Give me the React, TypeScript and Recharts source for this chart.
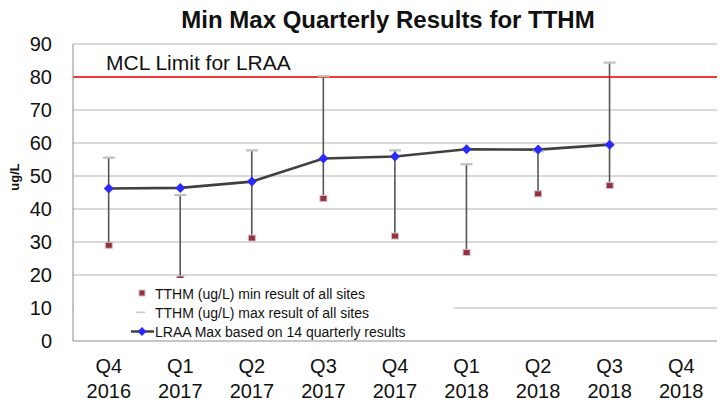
import React from 'react';
import { ComposedChart, Bar, Line, XAxis, YAxis, CartesianGrid, ReferenceLine, Legend } from 'recharts';

const categories = ['Q4 2016', 'Q1 2017', 'Q2 2017', 'Q3 2017', 'Q4 2017', 'Q1 2018', 'Q2 2018', 'Q3 2018', 'Q4 2018'];
const minValues: (number | null)[] = [29.0, 18.8, 31.2, 43.2, 31.8, 26.8, 44.6, 47.1, null];
const maxValues: (number | null)[] = [55.6, 44.3, 57.8, 80.3, 57.8, 53.6, 57.5, 84.4, null];
const lraaValues: (number | null)[] = [46.2, 46.4, 48.3, 55.3, 55.9, 58.1, 58.0, 59.5, null];
const yTicks = [0, 10, 20, 30, 40, 50, 60, 70, 80, 90];
const mclLimit = 80;

const FONT = '"Liberation Sans", Arial, sans-serif';

const data = categories.map((c, i) => ({
  cat: c,
  min: minValues[i],
  max: maxValues[i],
  lraa: lraaValues[i],
  range: minValues[i] != null && maxValues[i] != null ? [minValues[i], maxValues[i]] : null,
}));

const HighLow = (props: any) => {
  const { x, y, width, height } = props;
  if (x == null || y == null || !height) return null;
  const cx = x + width / 2;
  const top = Math.min(y, y + height);
  const bot = Math.max(y, y + height);
  return <line x1={cx} x2={cx} y1={top} y2={bot} stroke="#555555" strokeWidth={1.6} />;
};

const MaxDot = (props: any) => {
  const { cx, cy, value } = props;
  if (value == null || cx == null || cy == null) return null;
  return <rect x={cx - 6} y={cy - 1} width={12} height={2.2} fill="#b9c6b9" />;
};

const MinDot = (props: any) => {
  const { cx, cy, value } = props;
  if (value == null || cx == null || cy == null) return null;
  return <rect x={cx - 3.5} y={cy - 3} width={7} height={6} fill="#9b3034" stroke="#c8c0dc" strokeWidth={1} />;
};

const Diamond = (props: any) => {
  const { cx, cy, value } = props;
  if (value == null || cx == null || cy == null) return null;
  return <polygon points={`${cx},${cy - 5} ${cx + 5},${cy} ${cx},${cy + 5} ${cx - 5},${cy}`} fill="#2a2aff" />;
};

const XTick = (props: any) => {
  const { x, y, payload } = props;
  const [q, yr] = String(payload.value).split(' ');
  return (
    <text x={x} y={y} textAnchor="middle" fontFamily={FONT} fontSize={20} fill="#111">
      <tspan x={x} dy={32}>{q}</tspan>
      <tspan x={x} dy={25}>{yr}</tspan>
    </text>
  );
};

const YTick = (props: any) => {
  const { x, y, payload } = props;
  return (
    <text x={x} y={y} dy={7} textAnchor="end" fontFamily={FONT} fontSize={20} fill="#111">
      {payload.value}
    </text>
  );
};

const LegendContent = () => {
  const row: React.CSSProperties = { display: 'flex', alignItems: 'center', height: 19, fontSize: 14, fontFamily: FONT, color: '#111', whiteSpace: 'nowrap' };
  return (
    <div style={{ background: '#fff', width: 380, height: 62, paddingTop: 6, boxSizing: 'border-box' }}>
      <div style={row}>
        <svg width={81} height={19}><rect x={65} y={6} width={6} height={6} fill="#9b3034" stroke="#c8c0dc" strokeWidth={1} /></svg>
        <span>TTHM (ug/L) min result of all sites</span>
      </div>
      <div style={row}>
        <svg width={81} height={19}><rect x={62} y={8.5} width={9} height={1.6} fill="#c8c4dc" /></svg>
        <span>TTHM (ug/L) max result of all sites</span>
      </div>
      <div style={row}>
        <svg width={81} height={19}>
          <line x1={57} x2={80} y1={9.5} y2={9.5} stroke="#404040" strokeWidth={2.5} />
          <polygon points="68,5 72.5,9.5 68,14 63.5,9.5" fill="#2a2aff" />
        </svg>
        <span>LRAA Max based on 14 quarterly results</span>
      </div>
    </div>
  );
};

export default function App() {
  return (
    <div style={{ position: 'absolute', left: 0, top: 0, width: 720, height: 402, background: '#fff' }}>
      <ComposedChart width={720} height={402} data={data} margin={{ top: 44, right: 3, bottom: 0, left: 0 }}>
        <text x={388} y={28} textAnchor="middle" fontFamily={FONT} fontWeight="bold" fontSize={24} fill="#111">
          Min Max Quarterly Results for TTHM
        </text>
        <text x={0} y={0} transform="translate(19,177) rotate(-90)" textAnchor="middle" fontFamily={FONT} fontWeight="bold" fontSize={13} fill="#111">
          ug/L
        </text>
        <CartesianGrid horizontal vertical={false} stroke="#b4b4b4" strokeWidth={1.2} />
        <XAxis dataKey="cat" height={61} tick={<XTick />} tickLine={false} tickSize={0} tickMargin={0} axisLine={{ stroke: '#b4b4b4', strokeWidth: 1.2 }} interval={0} />
        <YAxis width={73} domain={[0, 90]} ticks={yTicks} tick={<YTick />} tickLine={false} tickSize={0} tickMargin={21} axisLine={{ stroke: '#8a8a8a', strokeWidth: 1 }} allowDataOverflow />
        <ReferenceLine
          y={mclLimit}
          stroke="#ff0000"
          strokeWidth={1.5}
          label={(p: any) => {
            const vb = p.viewBox || {};
            return (
              <text x={(vb.x ?? 73) + 33} y={(vb.y ?? 77) - 7} fontFamily={FONT} fontSize={21} fill="#111">
                MCL Limit for LRAA
              </text>
            );
          }}
        />
        <Legend
          layout="horizontal"
          verticalAlign="middle"
          align="center"
          content={<LegendContent />}
          wrapperStyle={{ position: 'absolute', left: 74, top: 278, width: 380, height: 62 }}
        />
        <Bar dataKey="range" shape={<HighLow />} isAnimationActive={false} legendType="none" />
        <Line dataKey="max" stroke="none" dot={<MaxDot />} activeDot={false} isAnimationActive={false} legendType="none" />
        <Line dataKey="min" stroke="none" dot={<MinDot />} activeDot={false} isAnimationActive={false} legendType="none" />
        <Line dataKey="lraa" stroke="#404040" strokeWidth={2.6} dot={<Diamond />} activeDot={false} isAnimationActive={false} legendType="none" />
      </ComposedChart>
    </div>
  );
}
